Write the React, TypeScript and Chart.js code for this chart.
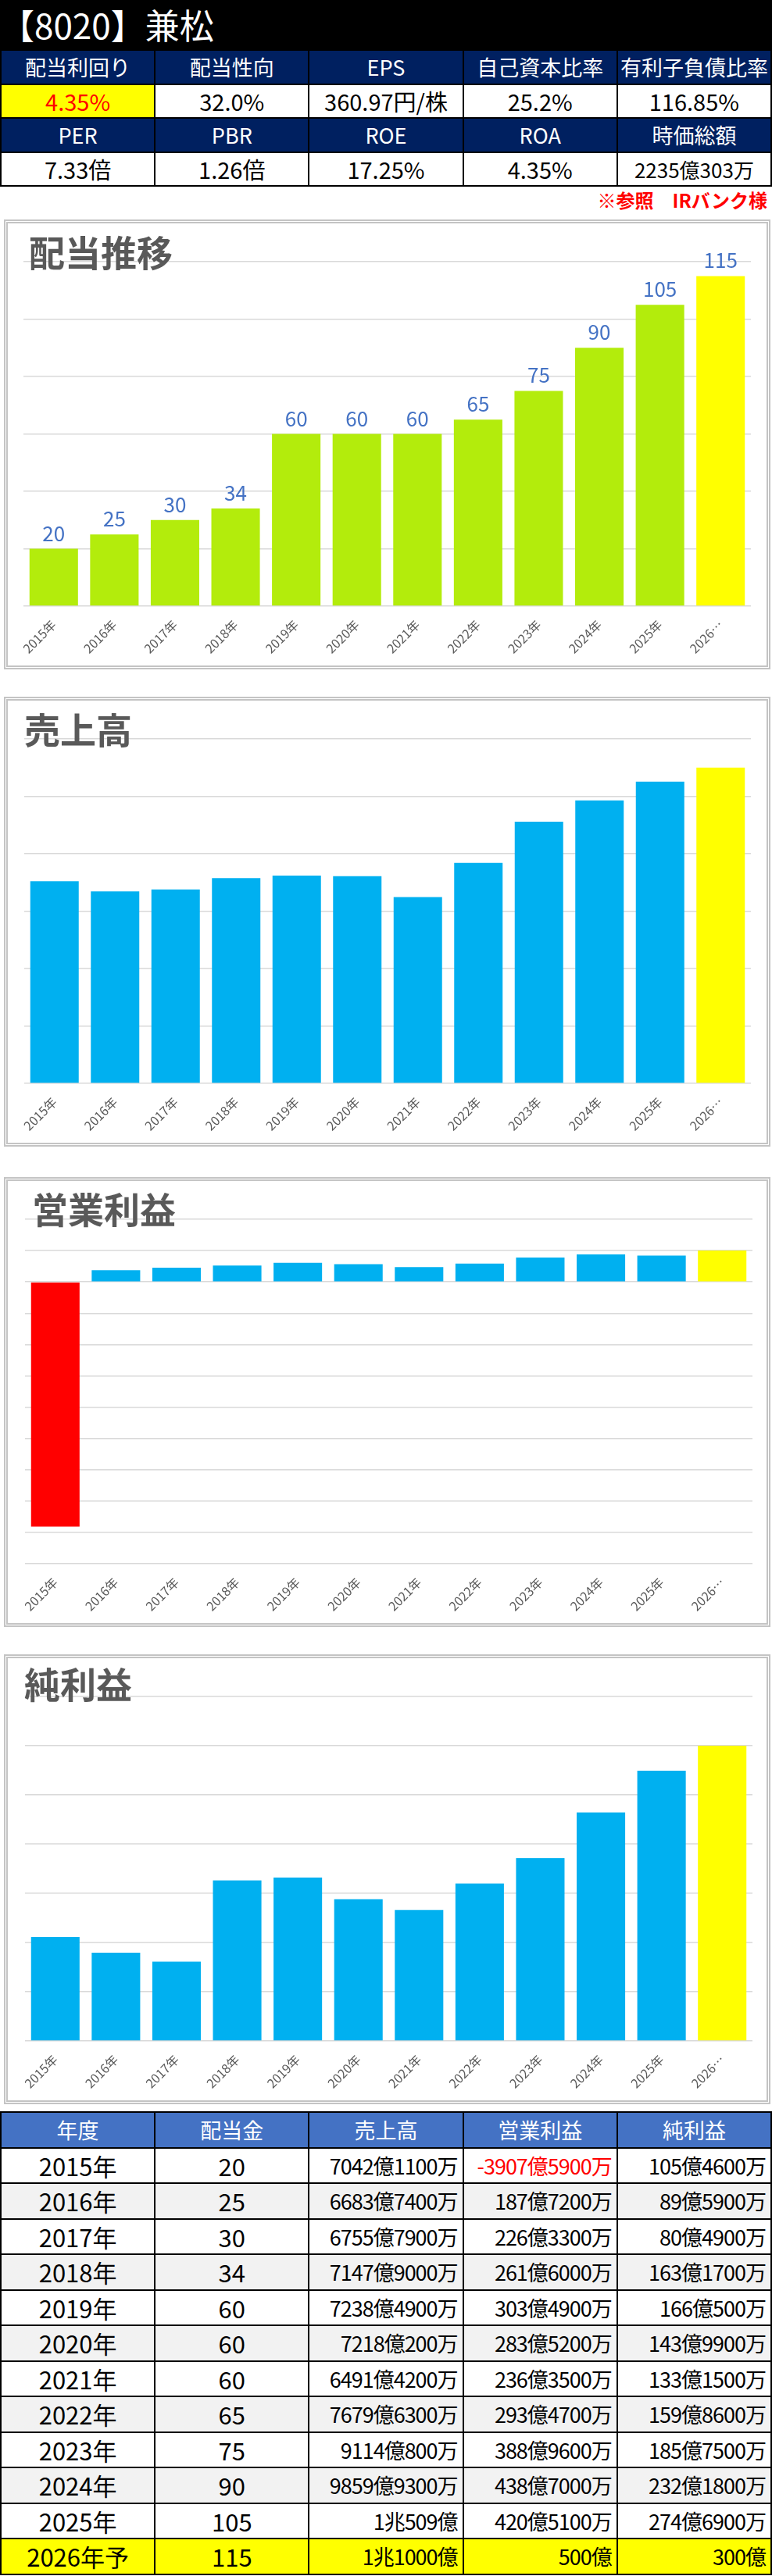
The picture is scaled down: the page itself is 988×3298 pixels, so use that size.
import { useEffect, useRef } from "react";
import { Chart, registerables } from "chart.js";

Chart.register(...registerables);
Chart.defaults.font.family = "'Noto Sans CJK JP', 'Noto Sans', sans-serif";

const years = ["2015年", "2016年", "2017年", "2018年", "2019年", "2020年", "2021年", "2022年", "2023年", "2024年", "2025年", "2026年予"];
const dividends = [20, 25, 30, 34, 60, 60, 60, 65, 75, 90, 105, 115];
// 億円
const sales = [7042.11, 6683.74, 6755.79, 7147.9, 7238.49, 7218.02, 6491.42, 7679.63, 9114.08, 9859.93, 10509, 11000];
const operatingProfit = [-3907.59, 187.72, 226.33, 261.6, 303.49, 283.52, 236.35, 293.47, 388.96, 438.7, 420.51, 500];
const netProfit = [105.46, 89.59, 80.49, 163.17, 166.05, 143.99, 133.15, 159.86, 185.75, 232.18, 274.69, 300];

const metricHeads1 = ["配当利回り", "配当性向", "EPS", "自己資本比率", "有利子負債比率"];
const metricVals1 = ["4.35%", "32.0%", "360.97円/株", "25.2%", "116.85%"];
const metricHeads2 = ["PER", "PBR", "ROE", "ROA", "時価総額"];
const metricVals2 = ["7.33倍", "1.26倍", "17.25%", "4.35%", "2235億303万"];
const tableHeads = ["年度", "配当金", "売上高", "営業利益", "純利益"];

const YELLOW = "#FFFF00";
const FONT = "'Noto Sans CJK JP', 'Noto Sans', sans-serif";

const barColors = (values: number[], base: string) =>
  values.map((v, i) => (i === values.length - 1 ? YELLOW : v < 0 ? "#FF0000" : base));

const fmtOku = (v: number) => {
  const sign = v < 0 ? "-" : "";
  const a = Math.abs(v);
  if (a >= 10000) {
    const cho = Math.floor(a / 10000);
    return `${sign}${cho}兆${Math.round(a - cho * 10000)}億`;
  }
  const oku = Math.floor(a);
  const man = Math.round((a - oku) * 10000);
  return man > 0 ? `${sign}${oku}億${man}万` : `${sign}${oku}億`;
};

const valueLabels = {
  id: "valueLabels",
  afterDatasetsDraw(chart: any) {
    const ctx = chart.ctx;
    const meta = chart.getDatasetMeta(0);
    ctx.save();
    ctx.font = `26px ${FONT}`;
    ctx.fillStyle = "#4472C4";
    ctx.textAlign = "center";
    ctx.textBaseline = "alphabetic";
    meta.data.forEach((bar: any, i: number) => {
      ctx.fillText(String(chart.data.datasets[0].data[i]), bar.x, bar.y - 10);
    });
    ctx.restore();
  },
};

type BarChartProps = {
  title: string;
  values: number[];
  colors: string[];
  min: number;
  max: number;
  step: number;
  top: number;
  titleLeft: number;
  titleTop: number;
  padLeft: number;
  padRight: number;
  showValues?: boolean;
};

const BarChart = (p: BarChartProps) => {
  const ref = useRef<HTMLCanvasElement>(null);
  useEffect(() => {
    if (!ref.current) return;
    const chart = new Chart(ref.current, {
      type: "bar",
      data: {
        labels: years,
        datasets: [
          {
            data: p.values,
            backgroundColor: p.colors,
            barPercentage: 0.8,
            categoryPercentage: 1,
          },
        ],
      },
      options: {
        animation: false,
        responsive: false,
        layout: { padding: { top: 49, bottom: 14, left: p.padLeft, right: p.padRight } },
        plugins: { legend: { display: false }, tooltip: { enabled: false } },
        scales: {
          x: {
            grid: { display: false, drawTicks: false },
            border: { display: false },
            ticks: {
              color: "#595959",
              font: { size: 16 },
              minRotation: 45,
              maxRotation: 45,
              autoSkip: false,
              padding: 14,
              callback: (value: any) => {
                const l = years[value as number];
                return l.length > 5 ? l.slice(0, 4) + "…" : l;
              },
            },
            afterFit: (s: any) => {
              s.height = 62;
            },
          },
          y: {
            min: p.min,
            max: p.max,
            ticks: { display: false, stepSize: p.step },
            grid: { color: "#D9D9D9", lineWidth: 1.5, drawTicks: false },
            border: { display: false },
            afterFit: (s: any) => {
              s.width = 0;
            },
          },
        },
      },
      plugins: p.showValues ? [valueLabels] : [],
    });
    return () => chart.destroy();
  }, []);
  return (
    <div
      style={{
        position: "absolute",
        left: 5,
        top: p.top,
        width: 981,
        height: 576,
        boxSizing: "border-box",
        border: "5px double #C4C4C4",
        background: "#fff",
      }}
    >
      <canvas ref={ref} width={971} height={566} style={{ position: "absolute", left: 0, top: 0 }} />
      <div
        style={{
          position: "absolute",
          left: p.titleLeft,
          top: p.titleTop,
          fontSize: 46,
          lineHeight: 1,
          fontWeight: 700,
          color: "#595959",
        }}
      >
        {p.title}
      </div>
    </div>
  );
};

const cell = (bg: string, color: string, size: number, align: "center" | "right" = "center") => ({
  background: bg,
  color,
  fontSize: size,
  display: "flex",
  alignItems: "center",
  justifyContent: align === "center" ? "center" : "flex-end",
  paddingRight: align === "right" ? 6 : 0,
  whiteSpace: "nowrap" as const,
  overflow: "hidden",
  letterSpacing: align === "right" ? -1 : 0,
});

export default function App() {
  const last = years.length - 1;
  return (
    <div style={{ position: "relative", width: 988, height: 3298, fontFamily: FONT, background: "#fff" }}>
      <style>{"body{margin:0}"}</style>
      <div
        style={{
          position: "absolute",
          left: 0,
          top: 0,
          width: 988,
          height: 63,
          background: "#000",
          color: "#fff",
          fontSize: 44,
          lineHeight: "63px",
          paddingLeft: 0,
        }}
      >
        【8020】兼松
      </div>
      <div
        style={{
          position: "absolute",
          left: 0,
          top: 63,
          width: 988,
          boxSizing: "border-box",
          background: "#000",
          display: "grid",
          gridTemplateColumns: "repeat(5, 1fr)",
          gridAutoRows: 41.5,
          gap: 2,
          padding: 2,
        }}
      >
        {metricHeads1.map((h) => (
          <div key={"h1" + h} style={cell("#002060", "#fff", 27)}>{h}</div>
        ))}
        {metricVals1.map((v, i) => (
          <div key={"v1" + i} style={cell(i === 0 ? YELLOW : "#fff", i === 0 ? "#FF0000" : "#000", 29)}>{v}</div>
        ))}
        {metricHeads2.map((h) => (
          <div key={"h2" + h} style={cell("#002060", "#fff", 27)}>{h}</div>
        ))}
        {metricVals2.map((v, i) => (
          <div key={"v2" + i} style={cell("#fff", "#000", i === 4 ? 26 : 29)}>{v}</div>
        ))}
      </div>
      <div
        style={{
          position: "absolute",
          right: 6,
          top: 244,
          color: "#FF0000",
          fontWeight: 700,
          fontSize: 24,
          lineHeight: 1,
        }}
      >
        ※参照　IRバンク様
      </div>

      <BarChart
        title="配当推移"
        values={dividends}
        colors={barColors(dividends, "#B3EC0C")}
        min={0}
        max={120}
        step={20}
        top={281}
        titleLeft={27}
        titleTop={12}
        padLeft={20}
        padRight={20}
        showValues
      />
      <BarChart
        title="売上高"
        values={sales}
        colors={barColors(sales, "#00B0F0")}
        min={0}
        max={12000}
        step={2000}
        top={892}
        titleLeft={21}
        titleTop={12}
        padLeft={21}
        padRight={20}
      />
      <BarChart
        title="営業利益"
        values={operatingProfit}
        colors={barColors(operatingProfit, "#00B0F0")}
        min={-4500}
        max={1000}
        step={500}
        top={1507}
        titleLeft={31}
        titleTop={11}
        padLeft={22}
        padRight={18}
      />
      <BarChart
        title="純利益"
        values={netProfit}
        colors={barColors(netProfit, "#00B0F0")}
        min={0}
        max={350}
        step={50}
        top={2118}
        titleLeft={21}
        titleTop={8}
        padLeft={22}
        padRight={18}
      />

      <div
        style={{
          position: "absolute",
          left: 0,
          top: 2703,
          width: 988,
          boxSizing: "border-box",
          background: "#000",
          display: "grid",
          gridTemplateColumns: "repeat(5, 1fr)",
          gridAutoRows: 43.5,
          gap: 2,
          padding: 2,
        }}
      >
        {tableHeads.map((h) => (
          <div key={"th" + h} style={cell("#4472C4", "#fff", 27)}>{h}</div>
        ))}
        {years.map((y, i) => {
          const bg = i === last ? YELLOW : i % 2 === 1 ? "#F2F2F2" : "#fff";
          return [
            <div key={"y" + i} style={cell(bg, "#000", 31)}>{y}</div>,
            <div key={"d" + i} style={cell(bg, "#000", 31)}>{dividends[i]}</div>,
            <div key={"s" + i} style={cell(bg, "#000", 27, "right")}>{fmtOku(sales[i])}</div>,
            <div key={"o" + i} style={cell(bg, operatingProfit[i] < 0 ? "#FF0000" : "#000", 27, "right")}>
              {fmtOku(operatingProfit[i])}
            </div>,
            <div key={"n" + i} style={cell(bg, "#000", 27, "right")}>{fmtOku(netProfit[i])}</div>,
          ];
        })}
      </div>
    </div>
  );
}
